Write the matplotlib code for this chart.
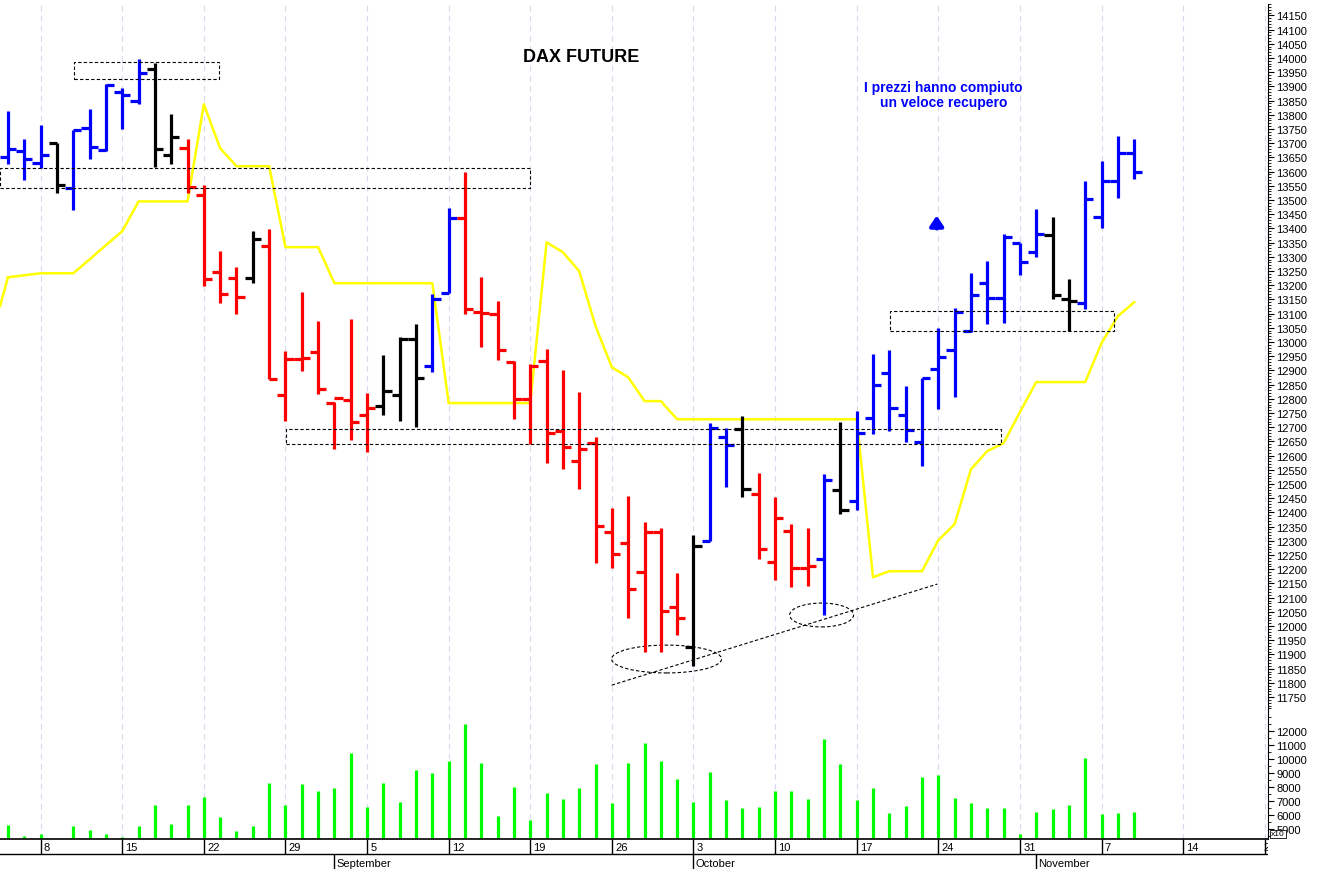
import matplotlib
matplotlib.use("Agg")
import matplotlib.pyplot as plt
from matplotlib.patches import Rectangle, Ellipse
import matplotlib.ticker as ticker
import numpy as np

plt.rcParams['font.family'] = ['Liberation Sans', 'DejaVu Sans']

# === Dati (sedute dal 4 agosto al 9 novembre) ===
days = ([4, 5, 8, 9, 10, 11, 12, 15, 16, 17, 18, 19, 22, 23, 24, 25, 26, 29, 30, 31]
        + [1, 2, 5, 6, 7, 8, 9, 12, 13, 14, 15, 16, 19, 20, 21, 22, 23, 26, 27, 28, 29, 30]
        + [3, 4, 5, 6, 7, 10, 11, 12, 13, 14, 17, 18, 19, 20, 21, 24, 25, 26, 27, 28, 31]
        + [1, 2, 3, 4, 7, 8, 9])

opens = [13653, 13673, 13631, 13700, 13543, 13755, 13675, 13880, 13849, 13962, 13657, 13682,
         13518, 13247, 13227, 13227, 13338, 12814, 12939, 12965,
         12787, 12796, 12742, 12773, 12813, 13010, 12916, 13174, 13435, 13104, 13098, 12931,
         12801, 12934, 12687, 12582, 12643, 12332, 12292, 12189, 12330, 12066,
         11928, 12300, 12666, 12693, 12464, 12224, 12335, 12203, 12236, 12480, 12441,
         12731, 12890, 12742, 12649, 12904, 12972, 13039, 13207, 13156, 13348,
         13317, 13376, 13153, 13137, 13441, 13567, 13667]
highs = [13813, 13714, 13764, 13702, 13746, 13821, 13907, 13895, 13995, 13981, 13804, 13714,
         13552, 13321, 13265, 13391, 13397, 12969, 13176, 13074,
         12789, 13080, 12822, 12953, 13019, 13063, 13168, 13473, 13599, 13230, 13145, 12934,
         12922, 12977, 12901, 12825, 12664, 12414, 12459, 12367, 12344, 12186,
         12320, 12714, 12699, 12738, 12538, 12453, 12359, 12344, 12535, 12719, 12758,
         12957, 12972, 12846, 12875, 13051, 13121, 13242, 13286, 13379, 13350,
         13470, 13441, 13221, 13567, 13637, 13725, 13714]
lows = [13626, 13570, 13614, 13524, 13465, 13646, 13673, 13749, 13837, 13617, 13626, 13524,
        13197, 13136, 13098, 13207, 12869, 12723, 12898, 12816,
        12623, 12656, 12613, 12742, 12723, 12702, 12895, 13172, 13098, 12981, 12937, 12728,
        12640, 12574, 12552, 12482, 12222, 12206, 12027, 11907, 11910, 11968,
        11858, 12300, 12491, 12453, 12236, 12163, 12139, 12142, 12039, 12394, 12409,
        12675, 12687, 12649, 12564, 12763, 12808, 13036, 13063, 13068, 13235,
        13301, 13153, 13039, 13115, 13403, 13508, 13575]
closes = [13678, 13646, 13660, 13552, 13746, 13688, 13905, 13868, 13946, 13678, 13723, 13547,
          13221, 13168, 13160, 13362, 12869, 12939, 12942, 12836,
          12802, 12717, 12766, 12828, 13010, 12875, 13150, 13435, 13118, 13101, 12972, 12799,
          12916, 12681, 12629, 12625, 12353, 12253, 12130, 12332, 12054, 12027,
          12283, 12696, 12637, 12484, 12273, 12382, 12203, 12212, 12515, 12409, 12680,
          12848, 12766, 12691, 12875, 12949, 13104, 13165, 13156, 13368, 13280,
          13379, 13165, 13145, 13505, 13567, 13667, 13600]
colors = list("BBBKBBBBBKKRRRRKRRRR" + "RRRKKKBBR" + "R" * 13 + "KBBKRRRRBK" + "B" * 11 + "BKKBBBB")

volume = [5260, 4500, 4670, 4310, 5210, 4930, 4670, 4450, 5210, 6710, 5330, 6710,
          7310, 5860, 4860, 5210, 8260, 6710, 8190, 7710,
          7900, 10450, 6600, 8260, 6950, 9190, 9020, 9860, 12480, 9740, 5930, 8020,
          5620, 7600, 7170, 7900, 9620, 6880, 9690, 11170, 9830, 8600,
          6950, 9100, 7050, 6520, 6600, 7690, 7690, 7170, 11400, 9620, 7050,
          7900, 6170, 6640, 8710, 8830, 7190, 6880, 6480, 6480, 4620,
          6240, 6400, 6690, 10100, 6050, 6120, 6240]

# linea gialla (indicatore)
yellow = [13228, 13235, 13242, 13242, 13242, 13291, 13341, 13390, 13495, 13495, 13495, 13495,
          13837, 13682, 13619, 13619, 13619, 13334, 13334, 13334,
          13207, 13207, 13207, 13207, 13207, 13207, 13207, 12785, 12785, 12785, 12785, 12785,
          12785, 13351, 13316, 13249, 13056, 12911, 12876, 12792, 12792, 12728,
          12728, 12728, 12728, 12728, 12728, 12728, 12728, 12728, 12728, 12728, 12728,
          12172, 12193, 12193, 12193, 12302, 12359, 12552, 12616, 12644, 12753,
          12859, 12859, 12859, 12859, 12996, 13091, 13140]

tick_idx = [2, 7, 12, 17, 22, 27, 32, 37, 42, 47, 52, 57, 62, 67, 72, 77]
tick_lab = ["8", "15", "22", "29", "5", "12", "19", "26", "3", "10", "17", "24", "31", "7", "14", "21"]
month_idx = [20, 42, 63]
month_lab = ["September", "October", "November"]

col_map = {"B": "#0000ff", "R": "#ff0000", "K": "#000000"}
x = np.arange(len(days))

W, H = 1319, 870
fig = plt.figure(figsize=(W / 100, H / 100), dpi=100)
ax_r = 1268 / W
ax = fig.add_axes([0, (H - 712) / H, ax_r, 707 / H])
axv = fig.add_axes([0, (H - 840) / H, ax_r, 128 / H], sharex=ax)

xmin, xmax = -0.49, 77.2
ax.set_xlim(xmin, xmax)
ax.set_ylim(11701, 14190)
axv.set_ylim(4290, 13430)

for a in (ax, axv):
    for i in tick_idx:
        a.axvline(i, color="#d8d8ee", lw=0.8, ls=(0, (5, 4)), zorder=0)
    for s in ("top", "left"):
        a.spines[s].set_visible(False)
    a.yaxis.tick_right()
    a.tick_params(axis="y", labelsize=8, length=4, pad=2)
    a.tick_params(axis="x", bottom=False, labelbottom=False)
    a.set_facecolor("white")
ax.spines["bottom"].set_visible(False)

# barre OHLC
for i in range(len(days)):
    c = col_map[colors[i]]
    ax.vlines(x[i], lows[i], highs[i], color=c, lw=2.3, zorder=3)
    ax.hlines(opens[i], x[i] - 0.5, x[i], color=c, lw=2.3, zorder=3)
    ax.hlines(closes[i], x[i], x[i] + 0.5, color=c, lw=2.3, zorder=3)

ax.plot(x, yellow, color="#ffff00", lw=1.8, zorder=2)
ax.plot([xmin, 0], [13126, yellow[0]], color="#ffff00", lw=1.8, zorder=2)

ax.yaxis.set_major_locator(ticker.MultipleLocator(50))
ax.yaxis.set_minor_locator(ticker.MultipleLocator(10))
ax.tick_params(axis="y", which="minor", length=2)

# box tratteggiati
boxes = [(4.04, 12.92, 13925, 13985), (xmin, 31.97, 13541, 13612),
         (17.02, 60.87, 12640, 12693), (54.01, 67.79, 13038, 13108)]
for x0, x1, y0, y1 in boxes:
    ax.add_patch(Rectangle((x0, y0), x1 - x0, y1 - y0, fill=False, ec="black",
                           lw=0.8, ls=(0, (3, 2)), zorder=4))
ax.add_patch(Ellipse((40.35, 11884), 6.74, 98, fill=False, ec="black", lw=0.8, ls=(0, (3, 2))))
ax.add_patch(Ellipse((49.85, 12039), 3.92, 84, fill=False, ec="black", lw=0.8, ls=(0, (3, 2))))
ax.plot([36.99, 56.95], [11792, 12148], color="black", lw=0.8, ls=(0, (3, 2)))

ax.text(35.1, 14006, "DAX FUTURE", ha="center", va="center", fontsize=13, weight="bold")
ax.text(57.3, 13870, "I prezzi hanno compiuto\nun veloce recupero", ha="center", va="center",
        fontsize=10, weight="bold", color="#0000ff", linespacing=1.1)
ax.annotate("", xy=(56.9, 13455), xytext=(56.9, 13390),
            arrowprops=dict(arrowstyle="-|>,head_width=0.4,head_length=0.6", color="#0000ff", lw=3))

# volumi
axv.vlines(x, 0, volume, color="#00ff00", lw=2.3)
axv.yaxis.set_major_locator(ticker.FixedLocator(range(5000, 12001, 1000)))
axv.yaxis.set_minor_locator(ticker.MultipleLocator(500))
axv.tick_params(axis="y", which="minor", length=2)
axv.spines["bottom"].set_linewidth(1.2)
fig.text(1271 / W, 1 - 835 / H, "x10", fontsize=6, va="center", zorder=5,
         bbox=dict(boxstyle="square,pad=0.1", fc="white", ec="black", lw=0.6))

# asse delle date
axd = fig.add_axes([0, 0, ax_r, 30 / H], sharex=ax)
axd.axis("off")
axd.set_ylim(0, 30)
axd.axhline(15, color="black", lw=1)
for i, lab in zip(tick_idx, tick_lab):
    axd.vlines(i, 15, 30, color="black", lw=1)
    axd.text(min(i + 0.2, 76.95), 22, lab, fontsize=8, va="center", ha="left", clip_on=True)
for i, lab in zip(month_idx, month_lab):
    axd.vlines(i, 0, 15, color="black", lw=1)
    axd.text(i + 0.1, 6, lab, fontsize=8, va="center", ha="left")

fig.savefig("out.png", dpi=100)
